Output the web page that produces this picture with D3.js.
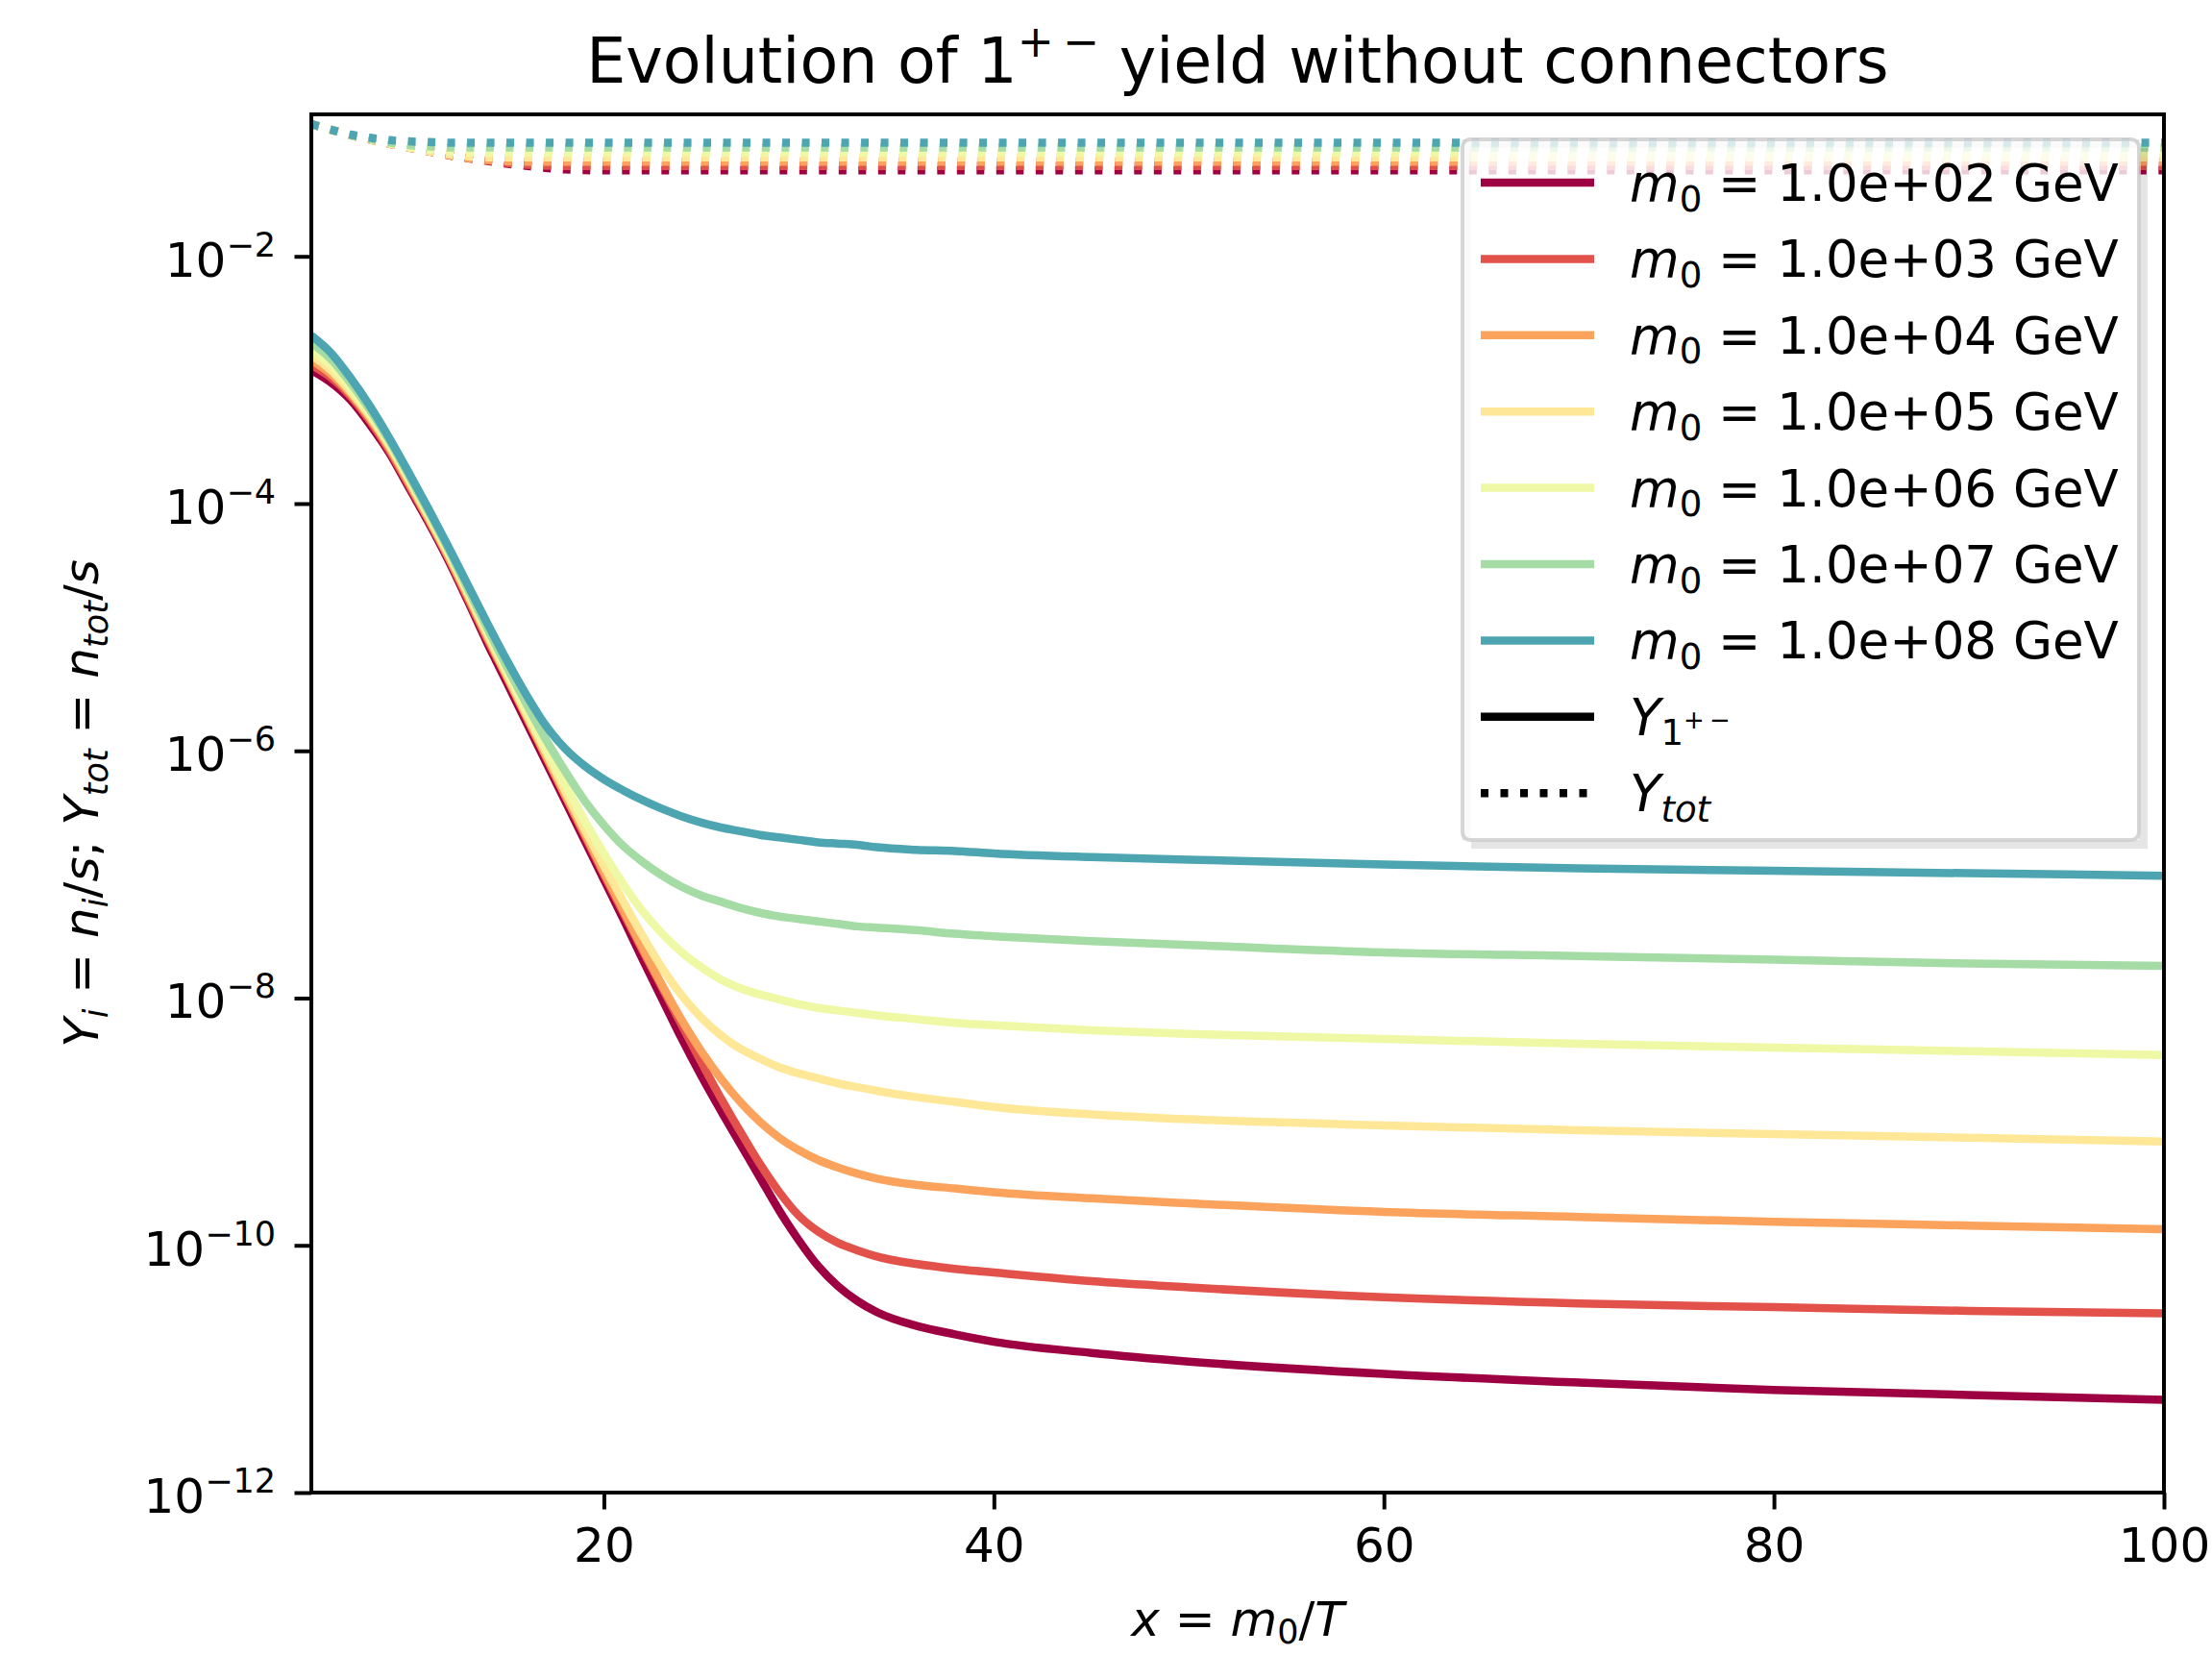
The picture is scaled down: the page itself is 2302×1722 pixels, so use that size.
<!DOCTYPE html>
<html>
<head>
<meta charset="utf-8">
<title>Evolution of 1+- yield without connectors</title>
<style>
  body { margin: 0; background: #ffffff; }
  svg text { font-family: "DejaVu Sans", sans-serif; fill: #000; white-space: pre; }
</style>
</head>
<body>
<div id="chart"></div>
<script src="https://cdn.jsdelivr.net/npm/d3@7"></script>
<script>

// x = m0/T samples of the solid curves (Y_1+-)
var xGrid = [5,6,7,8,9,10,11,12,13,14,15,16,17,18,19,20,21,22,23,24,25,26,27,28,29,30,31,32,33,34,36,38,40,45,50,60,70,80,90,100];

// log10(Y_1+-) for each mass
var logY_1e2 = [-2.92,-3.02,-3.16,-3.36,-3.59,-3.87,-4.15,-4.45,-4.78,-5.12,-5.44,-5.76,-6.08,-6.40,-6.72,-7.04,-7.36,-7.69,-8.01,-8.33,-8.63,-8.91,-9.18,-9.45,-9.72,-9.96,-10.17,-10.33,-10.45,-10.54,-10.65,-10.72,-10.78,-10.87,-10.94,-11.04,-11.11,-11.17,-11.21,-11.25];
var logY_1e3 = [-2.88,-2.98,-3.13,-3.33,-3.57,-3.85,-4.13,-4.43,-4.76,-5.09,-5.40,-5.72,-6.04,-6.36,-6.68,-7.00,-7.31,-7.62,-7.92,-8.22,-8.52,-8.81,-9.08,-9.34,-9.57,-9.76,-9.89,-9.98,-10.04,-10.09,-10.15,-10.19,-10.22,-10.29,-10.34,-10.42,-10.47,-10.50,-10.53,-10.55];
var logY_1e4 = [-2.84,-2.95,-3.11,-3.31,-3.55,-3.83,-4.12,-4.42,-4.74,-5.07,-5.39,-5.71,-6.03,-6.35,-6.66,-6.98,-7.29,-7.60,-7.90,-8.18,-8.43,-8.65,-8.84,-9.00,-9.13,-9.23,-9.31,-9.37,-9.42,-9.46,-9.51,-9.54,-9.57,-9.62,-9.66,-9.73,-9.77,-9.81,-9.84,-9.87];
var logY_1e5 = [-2.80,-2.92,-3.09,-3.29,-3.53,-3.81,-4.10,-4.40,-4.72,-5.05,-5.37,-5.69,-6.00,-6.32,-6.63,-6.93,-7.22,-7.50,-7.76,-7.98,-8.16,-8.30,-8.41,-8.49,-8.56,-8.61,-8.65,-8.69,-8.72,-8.75,-8.80,-8.84,-8.88,-8.94,-8.98,-9.03,-9.07,-9.10,-9.13,-9.16];
var logY_1e6 = [-2.76,-2.88,-3.06,-3.27,-3.51,-3.79,-4.08,-4.38,-4.70,-5.02,-5.34,-5.66,-5.97,-6.27,-6.56,-6.83,-7.08,-7.30,-7.48,-7.63,-7.75,-7.85,-7.92,-7.97,-8.01,-8.05,-8.08,-8.10,-8.12,-8.14,-8.17,-8.20,-8.22,-8.26,-8.29,-8.33,-8.37,-8.40,-8.43,-8.46];
var logY_1e7 = [-2.70,-2.83,-3.02,-3.24,-3.49,-3.77,-4.06,-4.36,-4.68,-5.00,-5.31,-5.61,-5.90,-6.16,-6.40,-6.60,-6.77,-6.90,-7.01,-7.10,-7.17,-7.22,-7.27,-7.31,-7.34,-7.36,-7.38,-7.40,-7.42,-7.43,-7.45,-7.48,-7.50,-7.54,-7.57,-7.63,-7.66,-7.69,-7.72,-7.74];
var logY_1e8 = [-2.64,-2.78,-2.98,-3.21,-3.47,-3.75,-4.04,-4.34,-4.65,-4.96,-5.26,-5.54,-5.79,-5.98,-6.12,-6.23,-6.32,-6.40,-6.47,-6.53,-6.58,-6.62,-6.65,-6.68,-6.70,-6.72,-6.74,-6.75,-6.76,-6.78,-6.80,-6.81,-6.83,-6.86,-6.88,-6.92,-6.95,-6.97,-6.99,-7.01];

// x samples of the dotted curves (Y_tot)
var xGridTot = [5,6,7,8,9,10,11,12,13,14,15,16,17,18,19,20,30,40,50,60,70,80,90,100];

var logTot_1e2 = [-0.93,-0.975,-1.02,-1.055,-1.09,-1.12,-1.15,-1.18,-1.205,-1.228,-1.25,-1.268,-1.285,-1.297,-1.303,-1.305,-1.305,-1.305,-1.305,-1.305,-1.305,-1.305,-1.305,-1.305];
var logTot_1e3 = [-0.93,-0.975,-1.02,-1.055,-1.09,-1.12,-1.15,-1.18,-1.205,-1.225,-1.245,-1.258,-1.266,-1.27,-1.27,-1.27,-1.27,-1.27,-1.27,-1.27,-1.27,-1.27,-1.27,-1.27];
var logTot_1e4 = [-0.93,-0.975,-1.02,-1.055,-1.09,-1.12,-1.15,-1.18,-1.205,-1.22,-1.23,-1.235,-1.235,-1.235,-1.235,-1.235,-1.235,-1.235,-1.235,-1.235,-1.235,-1.235,-1.235,-1.235];
var logTot_1e5 = [-0.93,-0.975,-1.02,-1.055,-1.09,-1.12,-1.15,-1.175,-1.19,-1.20,-1.20,-1.20,-1.20,-1.20,-1.20,-1.20,-1.20,-1.20,-1.20,-1.20,-1.20,-1.20,-1.20,-1.20];
var logTot_1e6 = [-0.93,-0.975,-1.02,-1.055,-1.085,-1.115,-1.135,-1.15,-1.16,-1.16,-1.16,-1.16,-1.16,-1.16,-1.16,-1.16,-1.16,-1.16,-1.16,-1.16,-1.16,-1.16,-1.16,-1.16];
var logTot_1e7 = [-0.93,-0.975,-1.02,-1.05,-1.08,-1.10,-1.11,-1.12,-1.12,-1.12,-1.12,-1.12,-1.12,-1.12,-1.12,-1.12,-1.12,-1.12,-1.12,-1.12,-1.12,-1.12,-1.12,-1.12];
var logTot_1e8 = [-0.93,-0.975,-1.015,-1.04,-1.06,-1.07,-1.075,-1.08,-1.08,-1.08,-1.08,-1.08,-1.08,-1.08,-1.08,-1.08,-1.08,-1.08,-1.08,-1.08,-1.08,-1.08,-1.08,-1.08];

var massLabels = ['1.0e+02','1.0e+03','1.0e+04','1.0e+05','1.0e+06','1.0e+07','1.0e+08'];
var colors = ['#9e0142','#e2524a','#fba35c','#fee898','#eef8a5','#a5dba4','#4ca5b1'];
var solidSeries = [logY_1e2, logY_1e3, logY_1e4, logY_1e5, logY_1e6, logY_1e7, logY_1e8];
var totSeries = [logTot_1e2, logTot_1e3, logTot_1e4, logTot_1e5, logTot_1e6, logTot_1e7, logTot_1e8];

var xTicks = [20, 40, 60, 80, 100];
var yTickExps = [-2, -4, -6, -8, -10, -12];

// ---------- layout ----------
var W = 2302, H = 1722;
var pLeft = 324, pRight = 2252, pTop = 119, pBottom = 1553;
var lw = 8.5;           // line width
var dots = '8,12.5';    // matplotlib ':' pattern

var svg = d3.select('#chart')
	.append('svg')
	.attr('width', W)
	.attr('height', H);

svg.append('rect')
	.attr('width', W).attr('height', H)
	.attr('fill', '#ffffff');

var x = d3.scaleLinear().domain([5, 100]).range([pLeft, pRight]);
var y = d3.scaleLog().domain([1e-12, Math.pow(10, -0.8515)]).range([pBottom, pTop]);

// writes mathtext-ish pieces: {t, it, off (em, +down), sc}
function addMath(textSel, parts, S) {
	var cur = 0;
	parts.forEach(function(p) {
		var off = (p.off || 0) * S;
		textSel.append('tspan')
			.attr('dy', off - cur)
			.attr('font-size', (p.sc || 1) * S)
			.attr('font-style', p.it ? 'italic' : 'normal')
			.text(p.t);
		cur = off;
	});
}

svg.append('clipPath').attr('id', 'plotClip')
	.append('rect')
	.attr('x', pLeft).attr('y', pTop)
	.attr('width', pRight - pLeft).attr('height', pBottom - pTop);

var plot = svg.append('g').attr('clip-path', 'url(#plotClip)');

var line = d3.line()
	.x(function(d) { return x(d[0]); })
	.y(function(d) { return y(Math.pow(10, d[1])); })
	.curve(d3.curveMonotoneX);

solidSeries.forEach(function(vals, i) {
	plot.append('path')
		.attr('d', line(xGrid.map(function(xv, k) { return [xv, vals[k]]; })))
		.attr('fill', 'none')
		.attr('stroke', colors[i])
		.attr('stroke-width', lw);

	plot.append('path')
		.attr('d', line(xGridTot.map(function(xv, k) { return [xv, totSeries[i][k]]; })))
		.attr('fill', 'none')
		.attr('stroke', colors[i])
		.attr('stroke-width', lw)
		.attr('stroke-dasharray', dots);
});

// ---------- axes ----------
var gx = svg.append('g')
	.attr('transform', 'translate(0,' + pBottom + ')')
	.call(d3.axisBottom(x).tickValues(xTicks).tickSize(17.5).tickFormat(d3.format('d')));
gx.select('.domain').remove();
gx.selectAll('.tick line').attr('stroke', '#000').attr('stroke-width', 4);
gx.selectAll('.tick text')
	.attr('y', 72).attr('dy', null)
	.attr('font-size', 50)
	.attr('font-family', 'DejaVu Sans')
	.attr('fill', '#000');

var gy = svg.append('g')
	.attr('transform', 'translate(' + pLeft + ',0)')
	.call(d3.axisLeft(y).tickValues(yTickExps.map(function(e) { return Math.pow(10, e); }))
		.tickSize(17.5).tickFormat(''));
gy.select('.domain').remove();
gy.selectAll('.tick line').attr('stroke', '#000').attr('stroke-width', 4);
gy.selectAll('.tick text').remove();

yTickExps.forEach(function(e) {
	var t = svg.append('text')
		.attr('x', 287)
		.attr('y', y(Math.pow(10, e)) + 21)
		.attr('text-anchor', 'end');
	addMath(t, [{t: '10'}, {t: '\u2212' + Math.abs(e), off: -0.42, sc: 0.7}], 50);
});

// spines
svg.append('rect')
	.attr('x', pLeft).attr('y', pTop)
	.attr('width', pRight - pLeft).attr('height', pBottom - pTop)
	.attr('fill', 'none')
	.attr('stroke', '#000')
	.attr('stroke-width', 4);

// title
var title = svg.append('text')
	.attr('x', (pLeft + pRight) / 2)
	.attr('y', 86)
	.attr('text-anchor', 'middle');
addMath(title, [
	{t: 'Evolution of 1'},
	{t: '+\u2009\u2212', off: -0.42, sc: 0.7},
	{t: ' yield without connectors'}
], 65);

// x label
var xl = svg.append('text')
	.attr('x', (pLeft + pRight) / 2)
	.attr('y', 1702)
	.attr('text-anchor', 'middle');
addMath(xl, [
	{t: 'x', it: true}, {t: ' = '}, {t: 'm', it: true},
	{t: '0', off: 0.16, sc: 0.7}, {t: '/'}, {t: 'T', it: true}
], 50);

// y label
var yl = svg.append('text')
	.attr('transform', 'translate(102,' + ((pTop + pBottom) / 2) + ') rotate(-90)')
	.attr('text-anchor', 'middle');
addMath(yl, [
	{t: 'Y', it: true}, {t: 'i', it: true, off: 0.2, sc: 0.7}, {t: ' = '},
	{t: 'n', it: true}, {t: 'i', it: true, off: 0.2, sc: 0.7}, {t: '/'},
	{t: 's', it: true}, {t: '; '},
	{t: 'Y', it: true}, {t: 'tot', it: true, off: 0.2, sc: 0.7}, {t: ' = '},
	{t: 'n', it: true}, {t: 'tot', it: true, off: 0.2, sc: 0.7}, {t: '/'},
	{t: 's', it: true}
], 50);

// ---------- legend ----------
var lg = svg.append('g');
var lgX = 1522, lgY = 145, lgW = 704, lgH = 729, sh = 9;

// shadow only outside the box (bottom and right strips)
lg.append('path')
	.attr('d', 'M' + (lgX + sh) + ',' + (lgY + sh) + 'h' + lgW + 'v' + lgH + 'h' + (-lgW) + 'Z' +
		'M' + lgX + ',' + lgY + 'v' + lgH + 'h' + lgW + 'v' + (-lgH) + 'Z')
	.attr('fill-rule', 'evenodd')
	.attr('fill', '#000').attr('opacity', 0.1);

lg.append('rect')
	.attr('x', lgX).attr('y', lgY)
	.attr('width', lgW).attr('height', lgH)
	.attr('rx', 8)
	.attr('fill', '#ffffff').attr('fill-opacity', 0.8)
	.attr('stroke', '#cccccc').attr('stroke-opacity', 0.8)
	.attr('stroke-width', 4);

var rowH = 79.4, row0 = 190;
var entries = massLabels.map(function(m, i) {
	return {color: colors[i], dash: null, parts: [
		{t: 'm', it: true}, {t: '0', off: 0.2, sc: 0.7}, {t: ' = ' + m + ' GeV'}
	]};
});
entries.push({color: '#000', dash: null, parts: [
	{t: 'Y', it: true}, {t: '1', off: 0.2, sc: 0.7}, {t: '+\u2009\u2212', off: -0.12, sc: 0.49}
]});
entries.push({color: '#000', dash: dots, parts: [
	{t: 'Y', it: true}, {t: 'tot', it: true, off: 0.2, sc: 0.7}
]});

entries.forEach(function(e, i) {
	var cy = row0 + i * rowH;
	lg.append('line')
		.attr('x1', 1541).attr('x2', 1659)
		.attr('y1', cy).attr('y2', cy)
		.attr('stroke', e.color)
		.attr('stroke-width', lw)
		.attr('stroke-dasharray', e.dash);
	var t = lg.append('text')
		.attr('x', 1696)
		.attr('y', cy + 19);
	addMath(t, e.parts, 53);
});

</script>
</body>
</html>
